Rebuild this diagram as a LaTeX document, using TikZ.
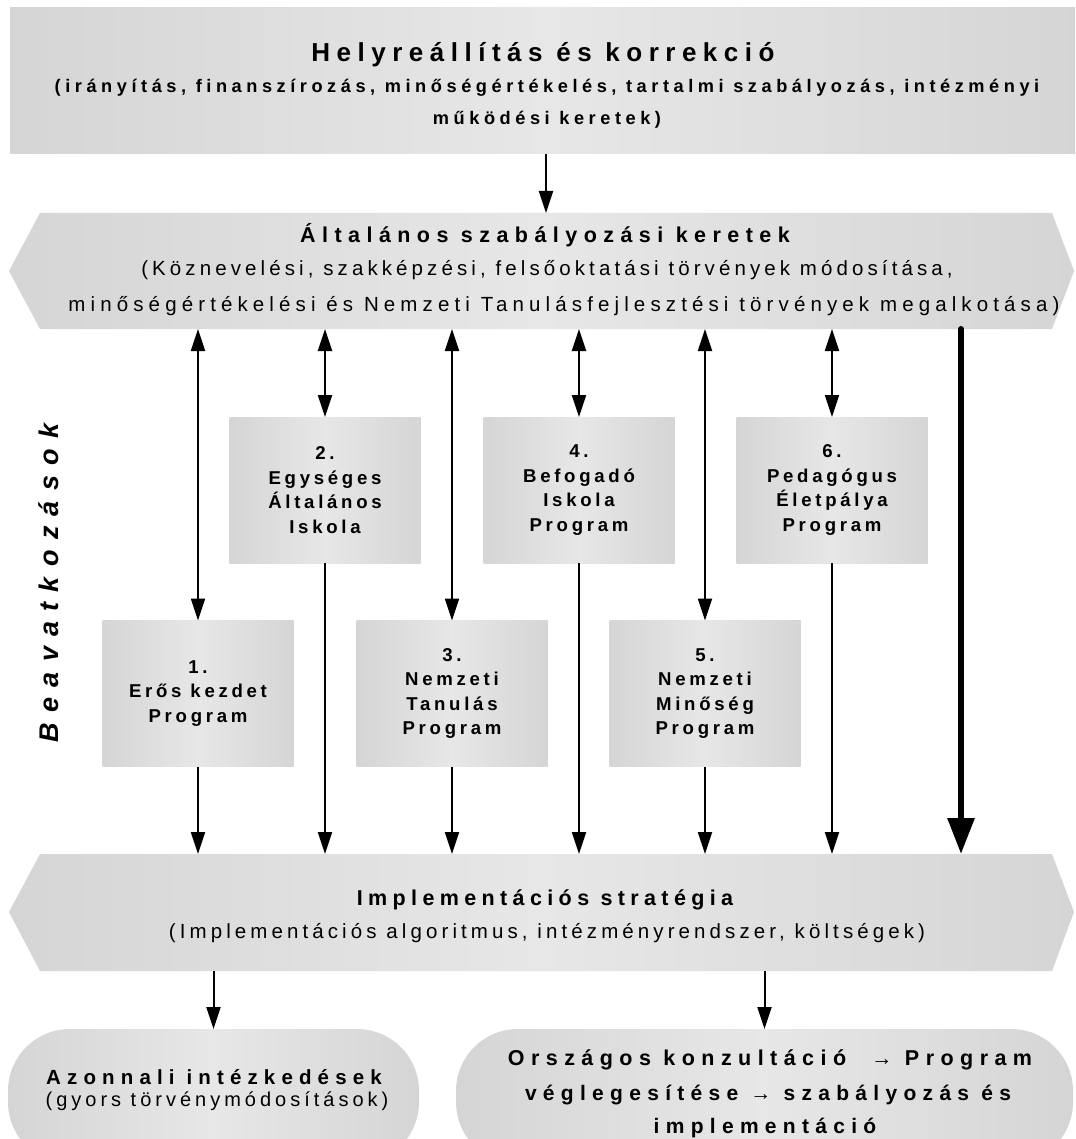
\documentclass[tikz,border=0pt]{standalone}
\usepackage{fontspec}
\setmainfont{Liberation Sans}
% tracked variants of the same face
\newfontfamily\trkA{Liberation Sans}[LetterSpace=20]
\newfontfamily\trkB{Liberation Sans}[LetterSpace=25]
\newfontfamily\trkC{Liberation Sans}[LetterSpace=30]
\newfontfamily\trkE{Liberation Sans}[LetterSpace=38]
\usetikzlibrary{arrows.meta}

\definecolor{panelside}{HTML}{D5D5D5}
\definecolor{panelmid}{HTML}{E7E7E7}

\tikzset{
  panel/.style={left color=panelside, right color=panelside, middle color=panelmid},
  area/.style={inner sep=0pt, outer sep=0pt},
  prog/.style={panel, area, minimum width=191pt, minimum height=146pt, align=center,
    font=\trkA\fontsize{18.6}{24.5}\selectfont\bfseries},
  txt/.style={inner sep=0pt, anchor=base},
  headA/.style={txt, font=\trkB\fontsize{26}{26}\selectfont\bfseries},
  headB/.style={txt, font=\trkB\fontsize{18.2}{18.2}\selectfont\bfseries},
  title/.style={txt, font=\trkC\fontsize{21.5}{21.5}\selectfont\bfseries},
  plain/.style={txt, font=\trkA\fontsize{20.5}{20.5}\selectfont},
  oneway/.style={line width=2pt, -{Triangle[length=22pt,width=14pt]}},
  twoway/.style={line width=2pt, {Triangle[length=22pt,width=14pt]}-{Triangle[length=22pt,width=14pt]}},
  heavy/.style={line width=6pt, line cap=round, -{Triangle[length=36pt,width=26pt]}},
}

\begin{document}
\begin{tikzpicture}[x=1pt, y=-1pt]
\useasboundingbox (0,0) rectangle (1075,1139);
\clip (0,0) rectangle (1075,1139);
\fill[white] (0,0) rectangle (1075,1139);

% top panel
\node[panel, area, minimum width=1072pt, minimum height=146pt] (top) at (546,81) {};
\node[headA] (topT) at (543,62) {Helyreállítás és korrekció};
\node[headB] (topL1) at (547,93) {(irányítás, finanszírozás, minőségértékelés, tartalmi szabályozás, intézményi};
\node[headB] (topL2) at (547,125) {működési keretek)};

% general regulatory framework
\path[panel] (9,271) -- (40,213) -- (1052,213) -- (1074,271) -- (1052,329) -- (40,329) -- cycle;
\node[area, minimum width=1012pt, minimum height=116pt] (gen) at (546,271) {};
\node[title] (genT) at (545,243) {Általános szabályozási keretek};
\node[plain] (genL1) at (547,276) {(Köznevelési, szakképzési, felsőoktatási törvények módosítása,};
\node[plain, font=\trkB\fontsize{20.5}{20.5}\selectfont] (genL2) at (564,311) {minőségértékelési és Nemzeti Tanulásfejlesztési törvények megalkotása)};

% programmes
\node[prog] (b2) at (325,490) {2.\\Egységes\\Általános\\Iskola};
\node[prog] (b4) at (579,490) {4.\\Befogadó\\Iskola\\Program};
\node[prog] (b6) at (832,490) {6.\\Pedagógus\\Életpálya\\Program};
\node[prog] (b1) at (198,693.5) {1.\\Erős kezdet\\Program};
\node[prog] (b3) at (452,693.5) {3.\\Nemzeti\\Tanulás\\Program};
\node[prog] (b5) at (705,693.5) {5.\\Nemzeti\\Minőség\\Program};

\node[rotate=90, inner sep=0pt, font=\trkE\fontsize{27}{27}\selectfont\bfseries\itshape] (side) at (49,583) {Beavatkozások};

% implementation strategy
\path[panel] (9,912) -- (40,854) -- (1052,854) -- (1074,912) -- (1052,971) -- (40,971) -- cycle;
\node[area, minimum width=1012pt, minimum height=117pt] (impl) at (546,912.5) {};
\node[title, font=\trkB\fontsize{21.5}{21.5}\selectfont\bfseries] (implT) at (545,905) {Implementációs stratégia};
\node[plain] (implL) at (547,938) {(Implementációs algoritmus, intézményrendszer, költségek)};

% outcomes
\node[panel, area, rounded corners=62pt, minimum width=411pt, minimum height=135pt] (quick) at (213.5,1096.5) {};
\node[title, font=\trkC\fontsize{20.5}{20.5}\selectfont\bfseries] (quickT) at (214,1084) {Azonnali intézkedések};
\node[plain, font=\trkA\fontsize{20}{20}\selectfont] (quickL) at (217,1106) {(gyors törvénymódosítások)};

\node[panel, area, rounded corners=62pt, minimum width=617pt, minimum height=135pt] (long) at (764.5,1096.5) {};
\node[title, font=\trkC\fontsize{21.5}{21.5}\selectfont\bfseries] (longA) at (770,1065) {Országos konzultáció \ → Program};
\node[title, font=\trkC\fontsize{21}{21}\selectfont\bfseries] (longB) at (768,1100) {véglegesítése → szabályozás és};
\node[title, font=\trkC\fontsize{21}{21}\selectfont\bfseries] (longC) at (765,1133) {implementáció};

% connectors
\draw[oneway] (top.south) -- (gen.north);
\foreach \b in {b1,b2,b3,b4,b5,b6}{
  \draw[twoway] (\b.north |- gen.south) -- (\b.north);
  \draw[oneway] (\b.south) -- (\b.south |- impl.north);
}
\coordinate (direct) at (961,600);
\draw[heavy] (direct |- gen.south) -- (direct |- impl.north);
\draw[oneway] (quick.north |- impl.south) -- (quick.north);
\draw[oneway] (long.north |- impl.south) -- (long.north);
\end{tikzpicture}
\end{document}
